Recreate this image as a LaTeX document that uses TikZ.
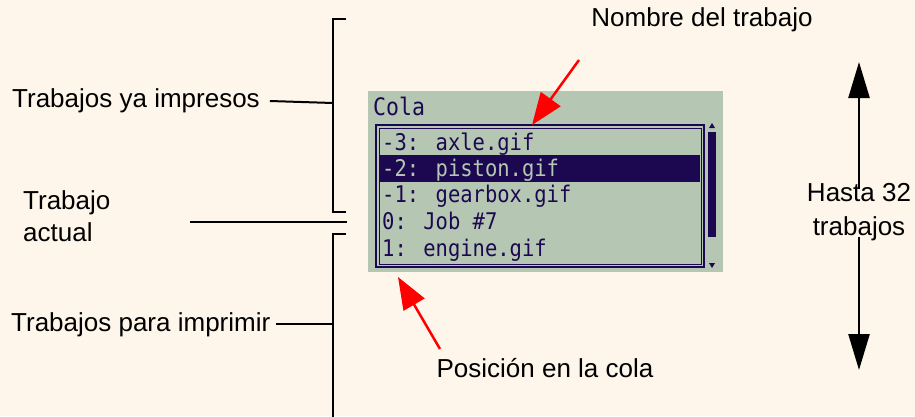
\documentclass[tikz,border=0pt]{standalone}
\usepackage{fontspec}
\setmainfont{Liberation Sans}
\newfontfamily\lcdfont{DejaVu Sans Mono}
\usetikzlibrary{arrows.meta}
\definecolor{bgc}{HTML}{FEF6EA}
\definecolor{lcdbg}{HTML}{B5C7B3}
\definecolor{lcdfg}{HTML}{1C0850}
\definecolor{redarr}{HTML}{FF0000}
\tikzset{
  lbl/.style={inner sep=0pt, font=\fontsize{26}{34}\selectfont, text=black},
  lcdtxt/.style={inner sep=0pt, anchor=base west, font=\lcdfont\fontsize{20.5}{24}\selectfont, text=lcdfg, yscale=1.12},
  bline/.style={line width=2pt, black},
  redarrow/.style={line width=2.5pt, redarr, -{Triangle[length=32pt,width=24pt]}},
  blkarrow/.style={line width=2.5pt, black, -{Triangle[length=36pt,width=21pt]}},
}
\begin{document}
\begin{tikzpicture}[x=1pt,y=-1pt]
\fill[bgc] (0,0) rectangle (915,416);
\useasboundingbox (0,0) rectangle (915,416);
% LCD panel
\fill[lcdbg] (368,91) rectangle (723,272);
\node[lcdtxt, font=\lcdfont\fontsize{21.5}{24}\selectfont] (cola) at (373,115) {Cola};
\draw[lcdfg, line width=1.6pt] (376,125) rectangle (704,267);
\draw[lcdfg, line width=1pt] (379,128) rectangle (701,264);
\fill[lcdfg] (380,155) rectangle (700,182);
\node[lcdtxt] (r1) at (382,150) {-3: axle.gif};
\node[lcdtxt, text=lcdbg] (r2) at (382,176) {-2: piston.gif};
\node[lcdtxt] (r3) at (382,202) {-1: gearbox.gif};
\node[lcdtxt] (r4) at (382,229) {0: Job \#7};
\node[lcdtxt] (r5) at (382,256) {1: engine.gif};
% scrollbar
\fill[lcdfg] (708,132) rectangle (716,237);
\fill[lcdfg] (709,128) -- (715,128) -- (712,123) -- cycle;
\fill[lcdfg] (709,263) -- (715,263) -- (712,268) -- cycle;
% left labels
\node[lbl, anchor=west] (ya) at (12,101) {Trabajos ya impresos};
\node[lbl, anchor=west, align=left, font=\fontsize{26}{32}\selectfont] (act) at (23,216) {Trabajo\\actual};
\node[lbl, anchor=west] (para) at (11,325) {Trabajos para imprimir};
% brackets
\coordinate (b1t) at (346,19);
\coordinate (b1b) at (346,212);
\coordinate (b1m) at (333,103);
\coordinate (b2t) at (346,234);
\coordinate (b2b) at (333,420);
\coordinate (b2m) at (333,324);
\coordinate (acts) at (190,222);
\coordinate (acte) at (347,222);
\draw[bline] (b1t) -- (333,19) -- (333,212) -- (b1b);
\draw[bline] (b2t) -- (333,234) -- (b2b);
\draw[bline] ([xshift=10pt]ya.east) -- (b1m);
\draw[bline] (acts) -- (acte);
\draw[bline] ([xshift=5pt]para.east |- b2m) -- (b2m);
% top and bottom labels
\node[lbl] (nombre) at (702,20) {Nombre del trabajo};
\node[lbl] (pos) at (545,368) {Posición en la cola};
\coordinate (n1) at (579,60);
\coordinate (n2) at (532,125);
\coordinate (p1) at (440,349);
\coordinate (p2) at (398,277);
\draw[redarrow] (n1) -- (n2);
\draw[redarrow] (p1) -- (p2);
% right
\node[lbl, align=center, font=\fontsize{26}{34}\selectfont] (hasta) at (859,212) {Hasta 32\\trabajos};
\coordinate (h1) at (859,62);
\coordinate (h2) at (859,370);
\draw[blkarrow] ([yshift=-6pt]hasta.north) -- (h1);
\draw[blkarrow] ([yshift=4pt]hasta.south) -- (h2);
\end{tikzpicture}
\end{document}
